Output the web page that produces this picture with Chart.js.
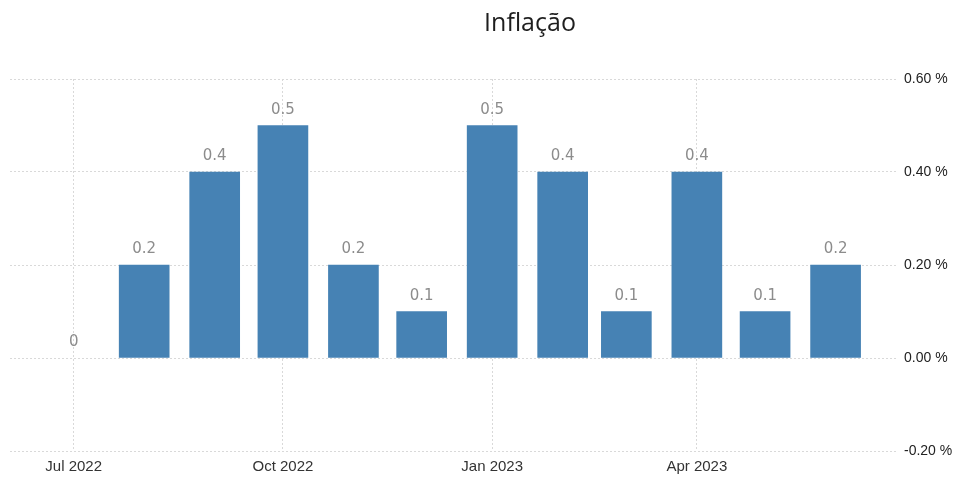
<!DOCTYPE html>
<html>
<head>
<meta charset="utf-8">
<script src="https://cdn.jsdelivr.net/npm/chart.js@4/dist/chart.umd.min.js"></script>
<style>
  html, body { margin: 0; padding: 0; background: #fff; }
  #wrap { width: 957px; height: 478px; position: relative; }
</style>
</head>
<body>
<div id="wrap"><canvas id="inflChart" width="957" height="478"></canvas></div>
<script>
// data
const chartTitle = 'Inflação';
const months = ['2022-07', '2022-08', '2022-09', '2022-10', '2022-11', '2022-12',
                '2023-01', '2023-02', '2023-03', '2023-04', '2023-05', '2023-06'];
const inflation = [0, 0.2, 0.4, 0.5, 0.2, 0.1, 0.5, 0.4, 0.1, 0.4, 0.1, 0.2];
const xTickMonths = ['2022-07', '2022-10', '2023-01', '2023-04'];
const xTickLabels = ['Jul 2022', 'Oct 2022', 'Jan 2023', 'Apr 2023'];
const yTicks = [-0.2, 0, 0.2, 0.4, 0.6];

// days since the first month, so the x axis spaces months like a time axis
const dayOf = (m) => {
    const [y, mo] = m.split('-').map(Number);
    return (Date.UTC(y, mo - 1, 1) - Date.UTC(2022, 6, 1)) / 864e5;
};

const points = months.map((m, i) => ({ x: dayOf(m), y: inflation[i] }));
const tickDays = xTickMonths.map(dayOf);

const valueLabels = {
    id: 'valueLabels',
    afterDatasetsDraw(chart) {
        const ctx = chart.ctx;
        const meta = chart.getDatasetMeta(0);
        ctx.save();
        ctx.font = '15px "DejaVu Sans"';
        ctx.fillStyle = '#8c8c8c';
        ctx.textAlign = 'center';
        ctx.textBaseline = 'bottom';
        meta.data.forEach((bar, i) => {
            ctx.fillText(String(inflation[i]), bar.x, bar.y - 8);
        });
        ctx.restore();
    }
};

const titlePlugin = {
    id: 'offsetTitle',
    afterDraw(chart) {
        const ctx = chart.ctx;
        ctx.save();
        ctx.font = '25px "Open Sans"';
        ctx.fillStyle = '#1e1e1e';
        ctx.textAlign = 'center';
        ctx.textBaseline = 'middle';
        ctx.fillText(chartTitle, 530, 24);
        ctx.restore();
    }
};

const gridStyle = {
    color: '#d9d9d9',
    lineWidth: 1,
    drawTicks: false,
    offset: false
};

new Chart(document.getElementById('inflChart'), {
    type: 'bar',
    data: {
        datasets: [{
            data: points,
            backgroundColor: (c) => (c.raw && c.raw.y === 0 ? 'rgba(0,0,0,0)' : '#4682b4'),
            borderWidth: 0,
            barThickness: 50
        }]
    },
    options: {
        responsive: false,
        animation: false,
        layout: { padding: { left: 10, right: 3, top: 79, bottom: 0 } },
        plugins: {
            legend: { display: false },
            tooltip: { enabled: false }
        },
        scales: {
            x: {
                type: 'linear',
                offset: false,
                min: -28,
                max: 362,
                afterBuildTicks: (axis) => {
                    axis.ticks = tickDays.map(v => ({ value: v }));
                },
                afterFit: (axis) => { axis.height = 27; },
                ticks: {
                    padding: 7,
                    maxRotation: 0,
                    color: '#333',
                    font: { family: 'Liberation Sans', size: 15 },
                    callback: (v) => xTickLabels[tickDays.indexOf(v)]
                },
                grid: gridStyle,
                border: { display: false, dash: [2, 2] }
            },
            y: {
                position: 'right',
                min: -0.2,
                max: 0.6,
                afterBuildTicks: (axis) => {
                    axis.ticks = yTicks.map(v => ({ value: v }));
                },
                afterFit: (axis) => { axis.width = 57; },
                ticks: {
                    padding: 7,
                    color: '#222',
                    font: { family: 'Liberation Sans', size: 14 },
                    callback: (v) => v.toFixed(2) + ' %'
                },
                grid: gridStyle,
                border: { display: false, dash: [2, 2] }
            }
        }
    },
    plugins: [valueLabels, titlePlugin]
});
</script>
</body>
</html>
